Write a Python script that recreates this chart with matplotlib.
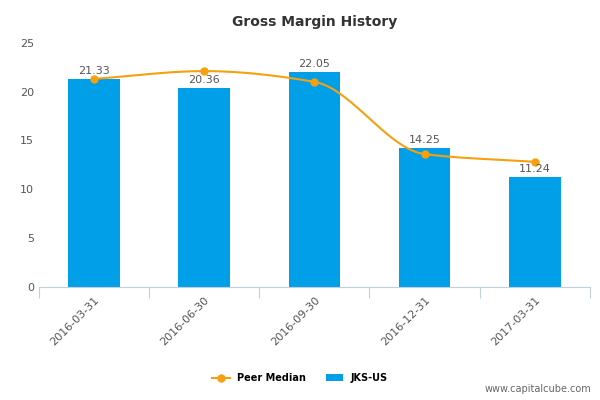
import numpy as np
import matplotlib.pyplot as plt

dates = ['2016-03-31', '2016-06-30', '2016-09-30', '2016-12-31', '2017-03-31']
jks_us = [21.33, 20.36, 22.05, 14.25, 11.24]
peer_median = [21.3, 22.1, 21.0, 13.6, 12.8]


def smooth_curve(x, y, n=200):
    # monotone cubic (Fritsch-Carlson) for the smooth line look
    x = np.asarray(x, float); y = np.asarray(y, float)
    h = np.diff(x); d = np.diff(y) / h
    m = np.zeros_like(y)
    m[0], m[-1] = d[0], d[-1]
    for i in range(1, len(y) - 1):
        m[i] = 0 if d[i - 1] * d[i] <= 0 else 2 / (1 / d[i - 1] + 1 / d[i])
    xs, ys = [], []
    for i in range(len(x) - 1):
        t = np.linspace(0, 1, n)
        h00 = 2 * t**3 - 3 * t**2 + 1; h10 = t**3 - 2 * t**2 + t
        h01 = -2 * t**3 + 3 * t**2; h11 = t**3 - t**2
        xs.append(x[i] + t * h[i])
        ys.append(h00 * y[i] + h10 * h[i] * m[i] + h01 * y[i + 1] + h11 * h[i] * m[i + 1])
    return np.concatenate(xs), np.concatenate(ys)


fig = plt.figure(figsize=(6, 4), dpi=100)
ax = fig.add_axes([0.065, 0.283, 0.918, 0.61])
x = np.arange(len(dates))
ax.bar(x, jks_us, width=0.47, color='#009fe8', zorder=2, label='JKS-US')
for xi, v in zip(x, jks_us):
    ax.text(xi, v + 0.3, f'{v:.2f}', ha='center', va='bottom', fontsize=8, color='#555555', zorder=4)
sx, sy = smooth_curve(x, peer_median)
ax.plot(sx, sy, color='#f5a00f', lw=1.5, zorder=3)
ax.plot(x, peer_median, 'o', color='#f5a00f', ms=5, zorder=3)
ax.plot([], [], '-o', color='#f5a00f', ms=5, label='Peer Median')

ax.set_xlim(-0.5, len(dates) - 0.5)
ax.set_ylim(0, 25)
ax.set_yticks([0, 5, 10, 15, 20, 25])
ax.set_xticks(np.arange(-0.5, len(dates), 1), minor=False)
ax.set_xticklabels([])
ax.set_xticks(x, minor=True)
ax.set_xticklabels(dates, minor=True, rotation=45, ha='right', rotation_mode='anchor', fontsize=8, color='#555555')
ax.tick_params(axis='x', which='major', length=8, color='#c0d0e0')
ax.tick_params(axis='x', which='minor', length=0, pad=6)
ax.tick_params(axis='y', length=0, labelsize=8, labelcolor='#555555')
for s in ['top', 'right', 'left']:
    ax.spines[s].set_visible(False)
ax.spines['bottom'].set_color('#c0d0e0')
ax.set_title('Gross Margin History', fontsize=10, fontweight='bold', color='#333333', pad=12)
fig.legend(loc='lower center', bbox_to_anchor=(0.5, 0.02), ncol=2, frameon=False, fontsize=7,
           prop={'weight': 'bold', 'size': 7}, handlelength=1.8)
fig.text(0.985, 0.015, 'www.capitalcube.com', ha='right', va='bottom', fontsize=7, color='#666666')
fig.savefig('out.png', dpi=100)
